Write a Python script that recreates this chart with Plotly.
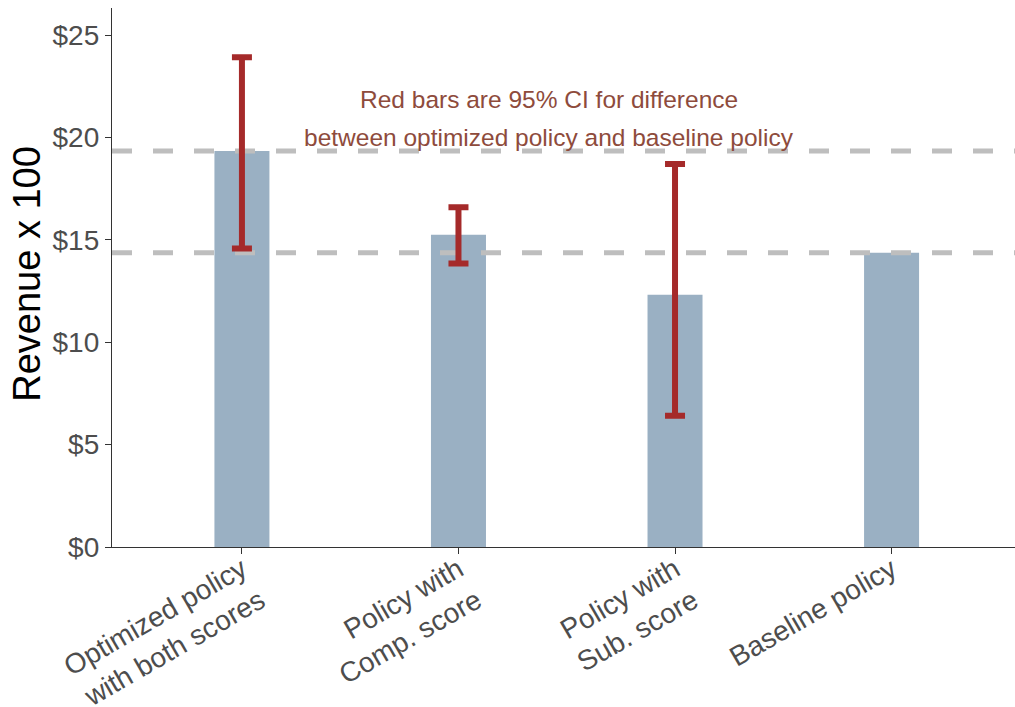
import plotly.graph_objects as go

categories = ["Optimized policy<br>with both scores", "Policy with<br>Comp. score",
              "Policy with<br>Sub. score", "Baseline policy"]
revenue = [19.35, 15.25, 12.32, 14.37]
ci_low = [14.58, 13.85, 6.41, None]
ci_high = [23.93, 16.60, 18.71, None]
ref_levels = [19.35, 14.37]
y_ticks = [0, 5, 10, 15, 20, 25]
y_tick_labels = ["$0", "$5", "$10", "$15", "$20", "$25"]
y_title = "Revenue x 100"
note_lines = ["Red bars are 95% CI for difference",
              "between optimized policy and baseline policy"]
note_y = [21.84, 19.98]

xpos = list(range(len(categories)))
x_range = [-0.6, 3.57]
y_range = [0, 26.33]

fig = go.Figure()
fig.add_trace(go.Bar(x=xpos, y=revenue, width=0.254, marker=dict(color="#9AB0C3", line=dict(width=0)),
                     showlegend=False, hoverinfo="skip"))
for lvl in ref_levels:
    fig.add_trace(go.Scatter(x=x_range, y=[lvl, lvl], mode="lines",
                             line=dict(color="#BEBEBE", width=5, dash="20px,21px"),
                             showlegend=False, hoverinfo="skip"))

ex, ey, eup, edn = [], [], [], []
for i, (lo, hi) in enumerate(zip(ci_low, ci_high)):
    if lo is None:
        continue
    mid = (lo + hi) / 2
    ex.append(i); ey.append(mid); eup.append(hi - mid); edn.append(mid - lo)
fig.add_trace(go.Scatter(x=ex, y=ey, mode="markers", marker=dict(size=0.1, opacity=0),
                         error_y=dict(type="data", array=eup, arrayminus=edn, symmetric=False,
                                      color="#A52A2A", thickness=6, width=10),
                         showlegend=False, hoverinfo="skip"))

for txt, yy in zip(note_lines, note_y):
    fig.add_annotation(x=1.42, y=yy, xref="x", yref="y", text=txt, showarrow=False,
                       font=dict(family="Liberation Sans, Arial", size=24.5, color="#8E4B3C"),
                       align="center")

fig.add_annotation(x=-0.0941, y=0.507, xref="paper", yref="paper", text=y_title,
                   showarrow=False, textangle=-90, xanchor="center", yanchor="middle",
                   font=dict(family="Liberation Sans, Arial", size=38, color="black"))

fig.update_layout(
    width=1015, height=707,
    margin=dict(l=112, r=0, t=8, b=160),
    plot_bgcolor="white", paper_bgcolor="white",
    font=dict(family="Liberation Sans, Arial", size=28, color="#4D4D4D"),
    xaxis=dict(range=x_range, tickvals=xpos, ticktext=categories, tickangle=-30,
               showline=True, linecolor="#333333", linewidth=1.3, ticks="outside",
               ticklen=6, tickcolor="#333333", tickwidth=1.3, showgrid=False, zeroline=False,
               tickfont=dict(size=28, color="#4D4D4D"), automargin=False,
               ticklabelstandoff=-12),
    yaxis=dict(range=y_range, tickvals=y_ticks, ticktext=y_tick_labels,
               showline=True, linecolor="#333333", linewidth=1.3, ticks="outside",
               ticklen=6, tickcolor="#333333", tickwidth=1.3, showgrid=False, zeroline=False,
               tickfont=dict(size=28, color="#4D4D4D"), automargin=False),
)

fig.write_html("out.html", post_script="document.body.style.margin='0';",
               config={"displayModeBar": False})
